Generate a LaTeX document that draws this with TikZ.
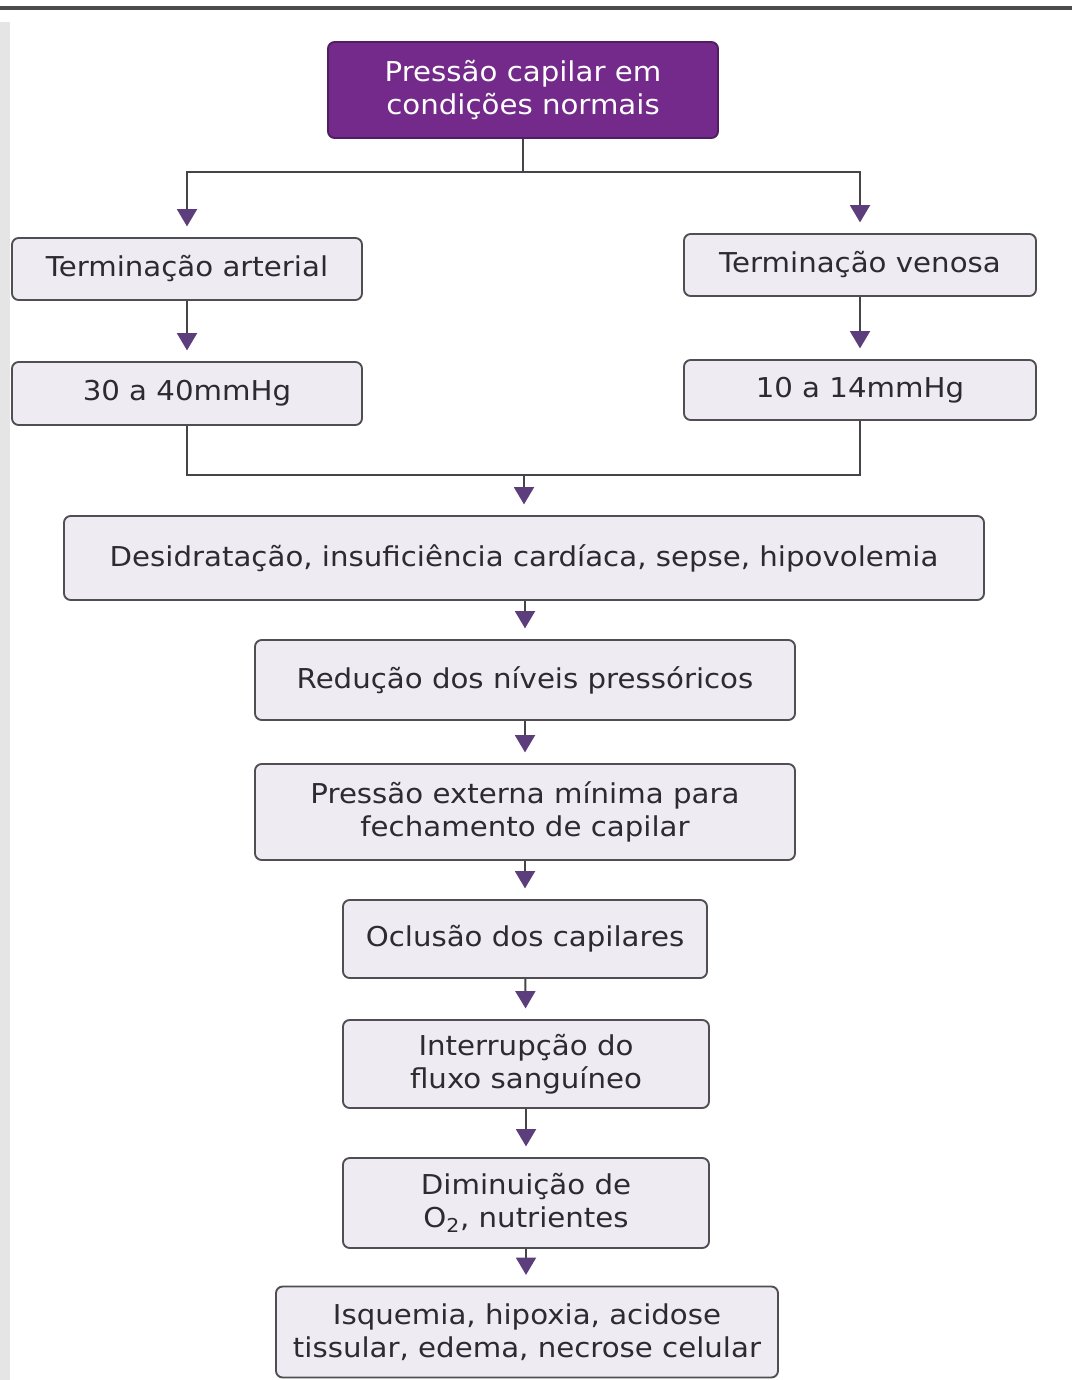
\documentclass[tikz,border=0pt]{standalone}
\usepackage{fontspec}
\setmainfont{DejaVu Sans}[FakeStretch=1.07]
\usetikzlibrary{arrows.meta}
\definecolor{topfill}{RGB}{116,42,138}
\definecolor{boxfill}{RGB}{239,235,243}
\definecolor{boxline}{RGB}{80,78,82}
\definecolor{txt}{RGB}{45,43,48}
\definecolor{tipcol}{RGB}{92,62,124}
\definecolor{linecol}{RGB}{70,68,72}
\begin{document}
\begin{tikzpicture}[x=0.75pt,y=-0.75pt,
  box/.style={draw=boxline,line width=1.4pt,fill=boxfill,rounded corners=5pt,
    text=txt,align=center,inner sep=0pt,font=\fontsize{20.5}{25}\selectfont},
  topbox/.style={box,fill=topfill,draw=topfill!70!black,text=white},
  link/.style={draw=linecol,line width=1.5pt},
  arr/.style={link,-{Triangle[width=15pt,length=13pt,color=tipcol]},shorten >=8pt}]
\useasboundingbox (0,0) rectangle (1072,1380);
\fill[white] (0,0) rectangle (1072,1380);
\fill[black!10] (0,22) rectangle (10,1380);
\draw[black!70,line width=2.5pt] (0,8) -- (1072,8);

\node[topbox,minimum width=292.5pt,minimum height=72pt] (top) at (523,90)
  {Pressão capilar em\\condições normais};
\node[box,minimum width=262.5pt,minimum height=46.5pt] (art) at (187,269) {Terminação arterial};
\node[box,minimum width=264pt,minimum height=46.5pt] (ven) at (860,265) {Terminação venosa};
\node[box,minimum width=262.5pt,minimum height=47.25pt] (p30) at (187,393.5) {30 a 40mmHg};
\node[box,minimum width=264pt,minimum height=45pt] (p10) at (860,390) {10 a 14mmHg};
\node[box,minimum width=690pt,minimum height=63pt] (des) at (524,558)
  {Desidratação, insuficiência cardíaca, sepse, hipovolemia};
\node[box,minimum width=405pt,minimum height=60pt] (red) at (525,680) {Redução dos níveis pressóricos};
\node[box,minimum width=405pt,minimum height=72pt] (pre) at (525,812)
  {Pressão externa mínima para\\fechamento de capilar};
\node[box,minimum width=273pt,minimum height=58.5pt] (ocl) at (525,939) {Oclusão dos capilares};
\node[box,minimum width=274.5pt,minimum height=66pt] (int) at (526,1064)
  {Interrupção do\\fluxo sanguíneo};
\node[box,minimum width=274.5pt,minimum height=67.5pt] (dim) at (526,1203)
  {Diminuição de\\O\textsubscript{2}, nutrientes};
\node[box,minimum width=376.5pt,minimum height=68.25pt] (isq) at (527,1332)
  {Isquemia, hipoxia, acidose\\tissular, edema, necrose celular};

\coordinate (sp) at (523,172);
\coordinate (mg) at (524,475);
\draw[link] (top.south) -- (sp);
\draw[arr] (sp) -| (art.north);
\draw[arr] (sp) -| (ven.north);
\draw[arr] (art) -- (p30);
\draw[arr] (ven) -- (p10);
\draw[link] (p30.south) |- (mg);
\draw[link] (p10.south) |- (mg);
\draw[arr] (mg) -- (des.north);
\draw[arr] (des.south -| red.north) -- (red.north);
\draw[arr] (red) -- (pre);
\draw[arr] (pre.south -| ocl.north) -- (ocl.north);
\draw[arr] (ocl) -- (int);
\draw[arr] (int) -- (dim);
\draw[arr] (dim.south) -- (dim.south |- isq.north);
\end{tikzpicture}
\end{document}
